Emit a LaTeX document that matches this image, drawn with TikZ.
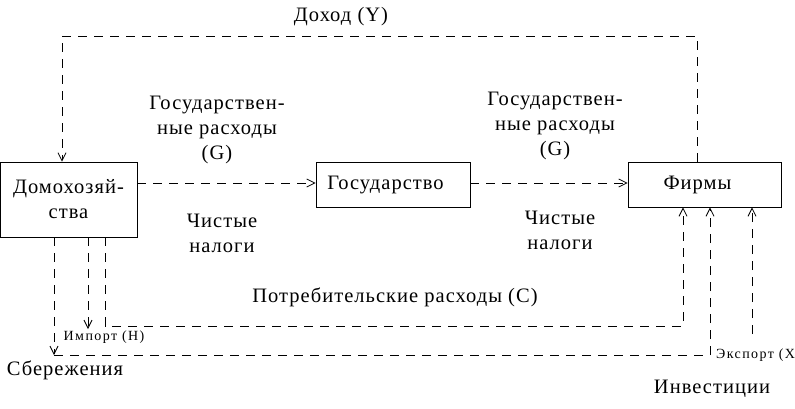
\documentclass[tikz,border=0pt]{standalone}
\usepackage{fontspec}
\setmainfont[LetterSpace=5]{Liberation Serif}
\newfontfamily\smallfont[LetterSpace=10]{Liberation Serif}
\usetikzlibrary{arrows.meta}
\begin{document}
\begin{tikzpicture}[x=1pt,y=-1pt,
  box/.style={draw,line width=0.9pt,inner sep=0pt,align=center,font=\fontsize{20.5}{25}\selectfont},
  lbl/.style={align=center,inner sep=0pt,font=\fontsize{20.5}{25}\selectfont},
  small/.style={inner sep=0pt,font=\smallfont\fontsize{14}{16}\selectfont},
  flow/.style={line width=0.8pt,dash pattern=on 9pt off 7pt},
  arr/.style={-{Straight Barb[length=8pt,width=8pt,line width=0.8pt]}}]
\useasboundingbox (0,0) rectangle (795,408);
% boxes
\node[box,minimum width=137pt,minimum height=75pt] (dom) at (68.5,199.5) {Домохозяй-\\ства};
\node[box,minimum width=154pt,minimum height=45pt] (gov) at (393,184.5) {Государство\hspace{15pt}};
\node[box,minimum width=153pt,minimum height=45pt] (firms) at (704.5,184.5) {Фирмы\hspace{14pt}};
% coordinates
\coordinate (tr) at (697,36);
\coordinate (tl) at (62,36);
\coordinate (sv) at (54,355);
\coordinate (iv) at (710,355);
\coordinate (im) at (88,329);
\coordinate (c1) at (105,326);
\coordinate (c2) at (683,326);
\coordinate (ex) at (752,334);
% flows
\draw[flow,arr] (firms.north -| tr) -- (tr) -- (tl) -- (dom.north -| tl);
\draw[flow,arr] (dom.east |- 0,183) -- (gov.west |- 0,183);
\draw[flow,arr] (gov.east |- 0,183) -- (firms.west |- 0,183);
\draw[flow,arr] (dom.south -| sv) -- (sv);
\draw[flow,arr] (sv) -- (iv) -- (firms.south -| iv);
\draw[flow,arr] (dom.south -| im) -- (im);
\draw[flow,arr] (dom.south -| c1) -- (c1) -- (c2) -- (firms.south -| c2);
\draw[flow,arr] (ex) -- (firms.south -| ex);
% labels
\node[lbl] (ly) at (341,17) {Доход (Y)};
\node[lbl] (lg1) at (217,130) {Государствен-\\ные расходы\\(G)};
\node[lbl] (lg2) at (555,126) {Государствен-\\ные расходы\\(G)};
\node[lbl] (lt1) at (222,233) {Чистые\\налоги};
\node[lbl] (lt2) at (560,230) {Чистые\\налоги};
\node[lbl] (lc) at (395,297) {Потребительские расходы (C)};
\node[lbl] (ls) at (65,370) {Сбережения};
\node[lbl] (li) at (712,389) {Инвестиции};
\node[small] (lim) at (104,337) {Импорт (H)};
\node[small,anchor=west] (lex) at (716,355) {Экспорт (X)};
\end{tikzpicture}
\end{document}
